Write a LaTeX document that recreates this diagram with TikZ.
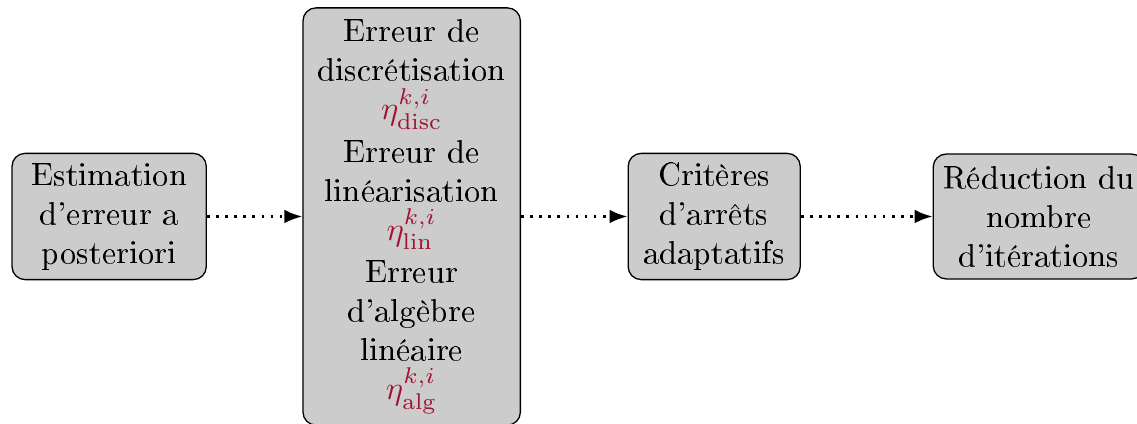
\documentclass[tikz,border=0pt]{standalone}
\usepackage[T1]{fontenc}
\usetikzlibrary{arrows.meta}
\definecolor{etared}{RGB}{160,18,50}
\tikzset{
    bloc/.style={draw, fill=black!20, rounded corners=4pt, align=center, inner sep=3pt},
    fleche/.style={thick, dotted, -{Latex[length=5.5pt,width=4.2pt]}}
}
\newcommand{\etaerr}[1]{\textcolor{etared}{$\eta^{k,i}_{\mathrm{#1}}$}}
\begin{document}
\begin{tikzpicture}
    \useasboundingbox (0, 0) rectangle (12.29, -4.58);

    \node[bloc, minimum width=2.1cm, minimum height=1.35cm] (estim) at (1.18, -2.34)
        {Estimation\\d'erreur a\\posteriori};

    \node[bloc, minimum width=2.35cm, minimum height=4.51cm] (erreurs) at (4.45, -2.34)
        {Erreur de\\discrétisation\\\etaerr{disc}\\[1pt]Erreur de\\linéarisation\\\etaerr{lin}\\[1pt]Erreur\\d'algèbre\\linéaire\\\etaerr{alg}};

    \node[bloc, minimum width=1.86cm, minimum height=1.35cm] (criteres) at (7.72, -2.34)
        {Critères\\d'arrêts\\adaptatifs};

    \node[bloc, minimum width=2.27cm, minimum height=1.35cm] (reduction) at (11.23, -2.34)
        {Réduction du\\nombre\\d'itérations};

    \draw[fleche] (estim) -- (erreurs);
    \draw[fleche] (erreurs) -- (criteres);
    \draw[fleche] (criteres) -- (reduction);
\end{tikzpicture}
\end{document}
